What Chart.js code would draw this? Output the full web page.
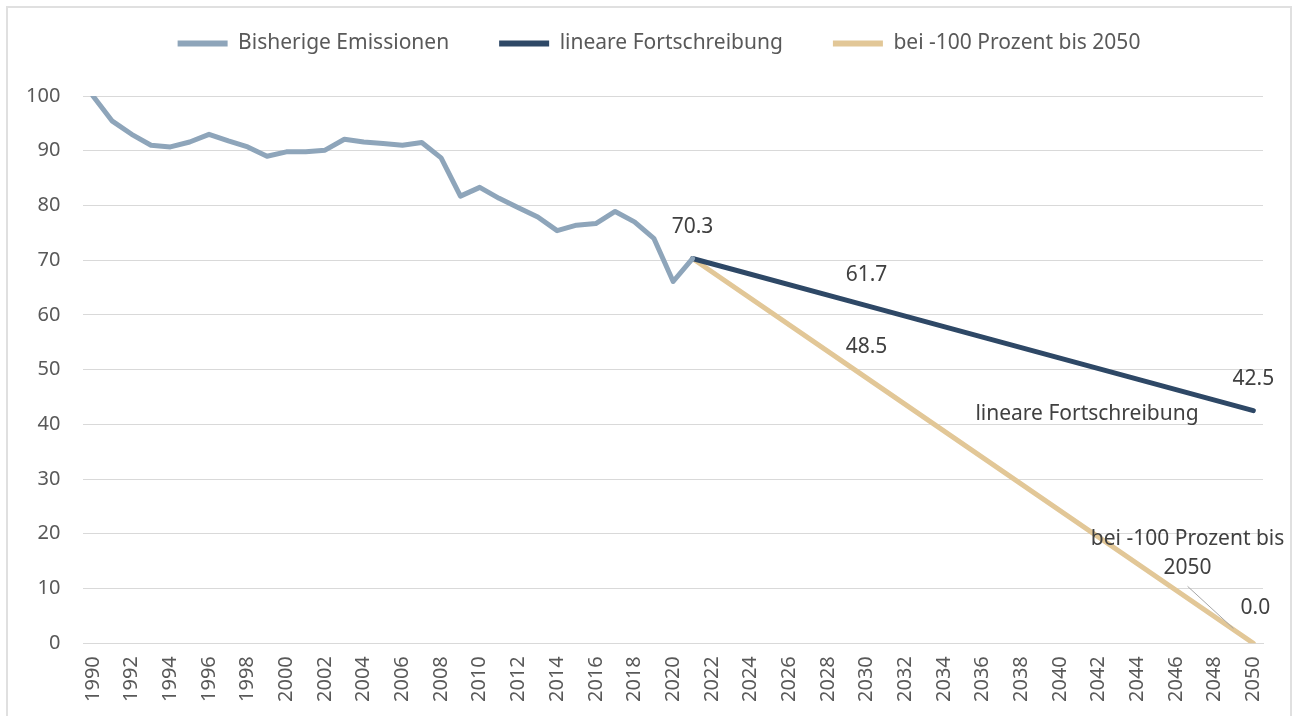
<!DOCTYPE html>
<html>
<head>
<meta charset="utf-8">
<script src="https://cdn.jsdelivr.net/npm/chart.js@4.4.0/dist/chart.umd.min.js"></script>
<style>
  html, body { margin: 0; padding: 0; background: #fff; overflow: hidden; }
  #wrap { width: 1294px; height: 716px; position: relative; }
  #rahmen { position: absolute; left: 6px; top: 6px; width: 1282px; height: 730px; border: 2px solid #e0e0e0; }
  #emissionen { position: absolute; left: 0; top: 0; }
</style>
</head>
<body>
<div id="wrap"><div id="rahmen"></div><canvas id="emissionen" width="1294" height="716"></canvas></div>
<script>
// Jahre 1990 bis 2050
const jahre = [];
for (let j = 1990; j <= 2050; j++) jahre.push(String(j));

// Bisherige Emissionen (Index 1990 = 100), 1990-2021
const bisherige = [100, 95.4, 93.0, 91.0, 90.7, 91.6, 93.0, 91.8, 90.7, 89.0,
  89.8, 89.8, 90.1, 92.1, 91.6, 91.3, 91.0, 91.5, 88.7, 81.7,
  83.3, 81.3, 79.6, 77.9, 75.4, 76.4, 76.7, 78.9, 77.0, 74.0,
  66.1, 70.3];

// beschriftete Punkte der Fortschreibungen
const stuetzJahre = ["2021", "2030", "2050"];
const linear = [70.3, 61.7, 42.5];
const minus100 = [70.3, 48.5, 0.0];

const farbeBisher = '#8ea5ba';
const farbeLinear = '#2e4866';
const farbeZiel = '#e2c797';

const aufAchse = (werte, jahrListe) => jahre.map(j => {
  const i = jahrListe.indexOf(j);
  return i >= 0 ? werte[i] : null;
});

const datenBisher = jahre.map((j, i) => i < bisherige.length ? bisherige[i] : null);
const datenLinear = aufAchse(linear, stuetzJahre);
const datenZiel = aufAchse(minus100, stuetzJahre);

const schrift = "'Noto Sans', 'DejaVu Sans', sans-serif";

// Legende etwas nach oben/rechts setzen, Abstand zum Diagramm bleibt
const legendeVersatz = {
  id: 'legendeVersatz',
  afterLayout(chart) {
    const lg = chart.legend;
    if (!lg) return;
    const dy = -32, dx = 26;
    lg.top += dy; lg.bottom += dy;
    lg.left += dx; lg.right += dx;
  }
};

const beschriftung = {
  id: 'beschriftung',
  afterDatasetsDraw(chart) {
    const { ctx, scales: { x, y } } = chart;
    const px = (jahr) => x.getPixelForValue(jahr - 1990);
    ctx.save();
    ctx.font = "21px " + schrift;
    ctx.fillStyle = '#404040';
    ctx.textAlign = 'center';
    ctx.textBaseline = 'middle';

    // Werte
    ctx.fillText('70.3', px(2021), y.getPixelForValue(70.3) - 32);
    ctx.fillText(linear[1].toFixed(1), px(2030), y.getPixelForValue(linear[1]) - 31);
    ctx.fillText(minus100[1].toFixed(1), px(2030), y.getPixelForValue(minus100[1]) - 31);
    ctx.fillText(linear[2].toFixed(1), px(2050), y.getPixelForValue(linear[2]) - 32);
    ctx.fillText(minus100[2].toFixed(1), px(2050) + 2, y.getPixelForValue(minus100[2]) - 35);

    // Reihennamen
    ctx.fillText('lineare Fortschreibung', px(2041.4), y.getPixelForValue(41.9));
    ctx.fillText('bei -100 Prozent bis', px(2046.6), y.getPixelForValue(19.0));
    ctx.fillText('2050', px(2046.6), y.getPixelForValue(13.7));

    // Fuehrungslinie
    ctx.strokeStyle = '#a6a6a6';
    ctx.lineWidth = 1;
    ctx.beginPath();
    ctx.moveTo(px(2046.6), y.getPixelForValue(10.4));
    ctx.lineTo(px(2048.97), y.getPixelForValue(2.7));
    ctx.stroke();
    ctx.restore();
  }
};

const config = {
  type: 'line',
  data: {
    labels: jahre,
    datasets: [
      { label: 'Bisherige Emissionen', data: datenBisher, borderColor: farbeBisher, backgroundColor: farbeBisher },
      { label: 'lineare Fortschreibung', data: datenLinear, borderColor: farbeLinear, backgroundColor: farbeLinear, spanGaps: true },
      { label: 'bei -100 Prozent bis 2050', data: datenZiel, borderColor: farbeZiel, backgroundColor: farbeZiel, spanGaps: true }
    ]
  },
  options: {
    responsive: false,
    animation: false,
    layout: { autoPadding: false, padding: { left: 3, right: 31, top: 15, bottom: 1 } },
    elements: {
      line: { borderWidth: 5, tension: 0, borderCapStyle: 'round', borderJoinStyle: 'round' },
      point: { radius: 0, hoverRadius: 0 }
    },
    plugins: {
      tooltip: { enabled: false },
      legend: {
        position: 'top',
        labels: {
          font: { size: 21, family: schrift },
          color: '#595959',
          boxWidth: 50,
          boxHeight: 6,
          padding: 50,
          generateLabels(chart) {
            return chart.data.datasets.map((ds, i) => ({
              text: ds.label,
              fillStyle: ds.borderColor,
              strokeStyle: ds.borderColor,
              lineWidth: 0,
              fontColor: '#595959',
              datasetIndex: i
            }));
          }
        }
      }
    },
    scales: {
      x: {
        type: 'category',
        offset: true,
        grid: { display: false, drawTicks: false },
        border: { color: '#d9d9d9', width: 1 },
        ticks: {
          autoSkip: false,
          maxRotation: 90,
          minRotation: 90,
          padding: 13,
          color: '#595959',
          font: { size: 20, family: schrift },
          callback: (v, i) => (i % 2 === 0 ? jahre[i] : '')
        }
      },
      y: {
        min: 0,
        max: 100,
        ticks: { stepSize: 10, color: '#595959', font: { size: 20, family: schrift }, padding: 23 },
        grid: { color: '#d9d9d9', lineWidth: 1, drawTicks: false },
        border: { display: false }
      }
    }
  },
  plugins: [legendeVersatz, beschriftung]
};

new Chart(document.getElementById('emissionen'), config);
</script>
</body>
</html>
